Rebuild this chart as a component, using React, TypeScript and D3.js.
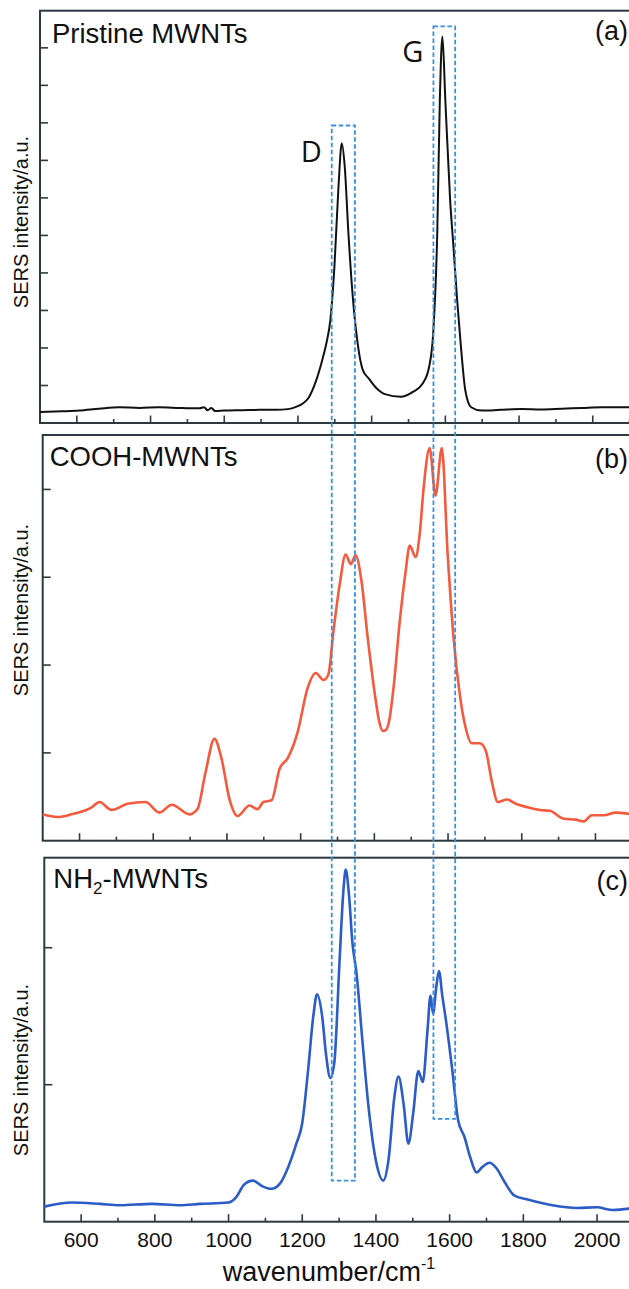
import React from "react";
import * as d3 from "d3";

// ---------- data ----------
const pristineWavenumber = [500, 560, 606, 660, 715, 770, 824, 880, 933, 945, 955, 965, 975, 999, 1050, 1097, 1140, 1173, 1195, 1213, 1228, 1250, 1266, 1277, 1288, 1299, 1310, 1319, 1327, 1337, 1348, 1362, 1376, 1392, 1414, 1436, 1479, 1512, 1539, 1556, 1567, 1578, 1585, 1592, 1600, 1613, 1622, 1632, 1643, 1654, 1670, 1698, 1750, 1807, 1860, 1916, 1970, 2025, 2100];
const pristineIntensity = [0.29, 0.31, 0.33, 0.38, 0.42, 0.40, 0.42, 0.40, 0.39, 0.42, 0.34, 0.40, 0.32, 0.33, 0.34, 0.35, 0.35, 0.37, 0.43, 0.52, 0.66, 1.15, 1.68, 2.12, 2.75, 4.17, 6.3, 7.46, 6.83, 5.05, 3.46, 2.12, 1.41, 1.19, 0.92, 0.77, 0.70, 0.83, 1.06, 1.5, 2.39, 5.05, 8.6, 10.3, 8.6, 5.94, 4.7, 3.28, 1.95, 0.88, 0.42, 0.33, 0.35, 0.37, 0.36, 0.38, 0.40, 0.42, 0.42];

const coohWavenumber = [500, 540, 578, 633, 654, 687, 730, 779, 817, 850, 899, 920, 942, 966, 985, 1007, 1029, 1061, 1083, 1099, 1121, 1143, 1165, 1192, 1219, 1241, 1262, 1275, 1290, 1306, 1322, 1336, 1349, 1365, 1382, 1403, 1413, 1423, 1431, 1440, 1452, 1469, 1485, 1496, 1512, 1523, 1534, 1550, 1566, 1583, 1599, 1615, 1632, 1648, 1664, 1686, 1702, 1719, 1735, 1760, 1784, 1816, 1849, 1876, 1914, 1946, 1968, 1990, 2022, 2055, 2100];
const coohIntensity = [0.30, 0.27, 0.30, 0.38, 0.44, 0.35, 0.42, 0.44, 0.32, 0.41, 0.30, 0.36, 0.78, 1.16, 0.94, 0.47, 0.28, 0.40, 0.36, 0.44, 0.46, 0.82, 0.94, 1.24, 1.74, 1.91, 1.83, 1.89, 2.42, 2.92, 3.26, 3.15, 3.25, 2.96, 2.31, 1.62, 1.36, 1.25, 1.26, 1.36, 1.74, 2.50, 3.07, 3.36, 3.23, 3.49, 4.03, 4.47, 3.93, 4.47, 3.26, 2.31, 1.66, 1.28, 1.11, 1.11, 1.03, 0.67, 0.44, 0.47, 0.42, 0.38, 0.35, 0.34, 0.25, 0.24, 0.22, 0.29, 0.29, 0.32, 0.30];

const nh2Wavenumber = [500, 575, 651, 705, 792, 868, 923, 999, 1021, 1042, 1066, 1091, 1116, 1140, 1162, 1184, 1200, 1216, 1230, 1240, 1254, 1265, 1276, 1287, 1301, 1312, 1318, 1327, 1336, 1347, 1363, 1379, 1401, 1420, 1434, 1450, 1461, 1475, 1488, 1501, 1515, 1527, 1540, 1548, 1555, 1564, 1571, 1580, 1591, 1607, 1623, 1640, 1657, 1673, 1689, 1708, 1727, 1749, 1776, 1814, 1879, 1945, 1999, 2043, 2100];
const nh2Intensity = [0.11, 0.14, 0.13, 0.12, 0.13, 0.12, 0.13, 0.14, 0.18, 0.27, 0.30, 0.26, 0.24, 0.28, 0.40, 0.57, 0.72, 1.11, 1.50, 1.66, 1.50, 1.21, 1.05, 1.16, 1.89, 2.43, 2.57, 2.38, 2.04, 1.82, 1.33, 0.86, 0.43, 0.30, 0.45, 0.91, 1.06, 0.86, 0.57, 0.79, 1.10, 1.02, 1.40, 1.65, 1.52, 1.72, 1.83, 1.65, 1.45, 1.11, 0.74, 0.62, 0.46, 0.36, 0.40, 0.43, 0.39, 0.29, 0.19, 0.16, 0.12, 0.10, 0.105, 0.085, 0.10];

const xMajorTicks = [600, 800, 1000, 1200, 1400, 1600, 1800, 2000];
const xMinorTicks = [700, 900, 1100, 1300, 1500, 1700, 1900, 2100];
const panelTitles = ["Pristine MWNTs", "COOH-MWNTs", "NH2-MWNTs"];
const panelLetters = ["(a)", "(b)", "(c)"];
const yLabel = "SERS intensity/a.u.";
const xLabel = "wavenumber/cm";
// bands: [left, right] wavenumber, top value in panel a, bottom value in panel c
const bandNames = ["D", "G"];
const bandRanges = [[1280, 1343], [1556, 1615]];
const bandTops = [7.93, 10.57];
const bandBottoms = [0.30, 0.75];

// ---------- layout ----------
const W = 629;
const H = 1289;
const PX_PER_UNIT = 0.3685;
const FONT = "'Liberation Sans', Arial, sans-serif";
const FRAME = "#2c3a3f";

const panels = [
  { left: 40, top: 10.7, bottom: 423, yMax: 10.99, yTicks: [1, 2, 3, 4, 5, 6, 7, 8, 9, 10], wn: pristineWavenumber, val: pristineIntensity, color: "#111111", width: 2, titleY: 42.7, letterY: 40, ylabY: 222 },
  { left: 42.7, top: 435, bottom: 840.7, yMax: 4.62, yTicks: [1, 2, 3, 4], wn: coohWavenumber, val: coohIntensity, color: "#f35a3e", width: 2.6, titleY: 465.5, letterY: 468, ylabY: 610 },
  { left: 44.3, top: 857.7, bottom: 1221.7, yMax: 2.657, yTicks: [1, 2], wn: nh2Wavenumber, val: nh2Intensity, color: "#2c5cc5", width: 2.6, titleY: 888, letterY: 890, ylabY: 1070 },
];

function xScaleFor(left: number) {
  return d3.scaleLinear().domain([500, 2100]).range([left, left + 1600 * PX_PER_UNIT]);
}

function Panel({ p, i }: { p: any; i: number }) {
  const x = xScaleFor(p.left);
  const y = d3.scaleLinear().domain([0, p.yMax]).range([p.bottom, p.top]);
  const pts = p.wn.map((w: number, k: number) => [w, p.val[k]] as [number, number]);
  const line = d3
    .line<[number, number]>()
    .x((d) => x(d[0]))
    .y((d) => y(d[1]))
    .curve(d3.curveMonotoneX);
  const right = p.left + 620;
  return (
    <g>
      {/* frame */}
      <rect x={p.left} y={p.top} width={right - p.left} height={p.bottom - p.top} fill="none" stroke={FRAME} strokeWidth={2} />
      {/* y ticks */}
      {p.yTicks.map((t: number) => (
        <line key={"yt" + t} x1={p.left} x2={p.left + 8} y1={y(t)} y2={y(t)} stroke={FRAME} strokeWidth={1.6} />
      ))}
      {/* x ticks */}
      {xMajorTicks.map((t) => (
        <line key={"xM" + t} x1={x(t)} x2={x(t)} y1={p.bottom} y2={p.bottom - 7.5} stroke={FRAME} strokeWidth={1.6} />
      ))}
      {xMinorTicks.map((t) => (
        <line key={"xm" + t} x1={x(t)} x2={x(t)} y1={p.bottom} y2={p.bottom - 4} stroke={FRAME} strokeWidth={1.6} />
      ))}
      {/* spectrum */}
      <path d={line(pts) || ""} fill="none" stroke={p.color} strokeWidth={p.width} strokeLinejoin="round" />
      {/* title */}
      {i === 2 ? (
        <text x={p.left + 9} y={p.titleY} fontFamily={FONT} fontSize={27.5} fill="#111">
          NH<tspan fontSize={17} dy={6}>2</tspan>
          <tspan dy={-6}>-MWNTs</tspan>
        </text>
      ) : (
        <text x={p.left + (i === 0 ? 12 : 7)} y={p.titleY} fontFamily={FONT} fontSize={27.5} fill="#111">
          {panelTitles[i]}
        </text>
      )}
      <text x={628} y={p.letterY} textAnchor="end" fontFamily={FONT} fontSize={27} fill="#111">
        {panelLetters[i]}
      </text>
      {/* y label */}
      <text
        transform={`translate(${27.5},${p.ylabY}) rotate(-90)`}
        textAnchor="middle"
        fontFamily={FONT}
        fontSize={20}
        fill="#111"
      >
        {yLabel}
      </text>
    </g>
  );
}

export default function App() {
  const pa = panels[0];
  const pc = panels[2];
  const xc = xScaleFor(pc.left);
  const ya = d3.scaleLinear().domain([0, pa.yMax]).range([pa.bottom, pa.top]);
  const yc = d3.scaleLinear().domain([0, pc.yMax]).range([pc.bottom, pc.top]);
  return (
    <svg
      width={W}
      height={H}
      viewBox={`0 0 ${W} ${H}`}
      style={{ position: "absolute", left: 0, top: 0, background: "#fff" }}
    >
      <rect x={0} y={0} width={W} height={H} fill="#fff" />
      {panels.map((p, i) => (
        <Panel key={i} p={p} i={i} />
      ))}
      {/* x tick labels on bottom panel */}
      {xMajorTicks.map((t) => (
        <text key={"lab" + t} x={xc(t)} y={1247} textAnchor="middle" fontFamily={FONT} fontSize={21} fill="#111">
          {t}
        </text>
      ))}
      <text x={329} y={1281} textAnchor="middle" fontFamily={FONT} fontSize={27} fill="#111">
        {xLabel}
        <tspan fontSize={16} dy={-12}>-1</tspan>
      </text>
      {/* D / G dashed bands */}
      {bandRanges.map((r, k) => (
        <rect
          key={"band" + k}
          x={xc(r[0])}
          y={ya(bandTops[k])}
          width={xc(r[1]) - xc(r[0])}
          height={yc(bandBottoms[k]) - ya(bandTops[k])}
          fill="none"
          stroke="#3b8fdc"
          strokeWidth={1.8}
          strokeDasharray="4.5,2.5"
        />
      ))}
      {bandNames.map((n, k) => (
        <text
          key={"bn" + k}
          x={xc(bandRanges[k][0]) - 10}
          y={ya(bandTops[k]) + (k === 0 ? 37 : 36)}
          textAnchor="end"
          fontFamily="'Open Sans', sans-serif"
          fontSize={29}
          fill="#111"
        >
          {n}
        </text>
      ))}
    </svg>
  );
}
